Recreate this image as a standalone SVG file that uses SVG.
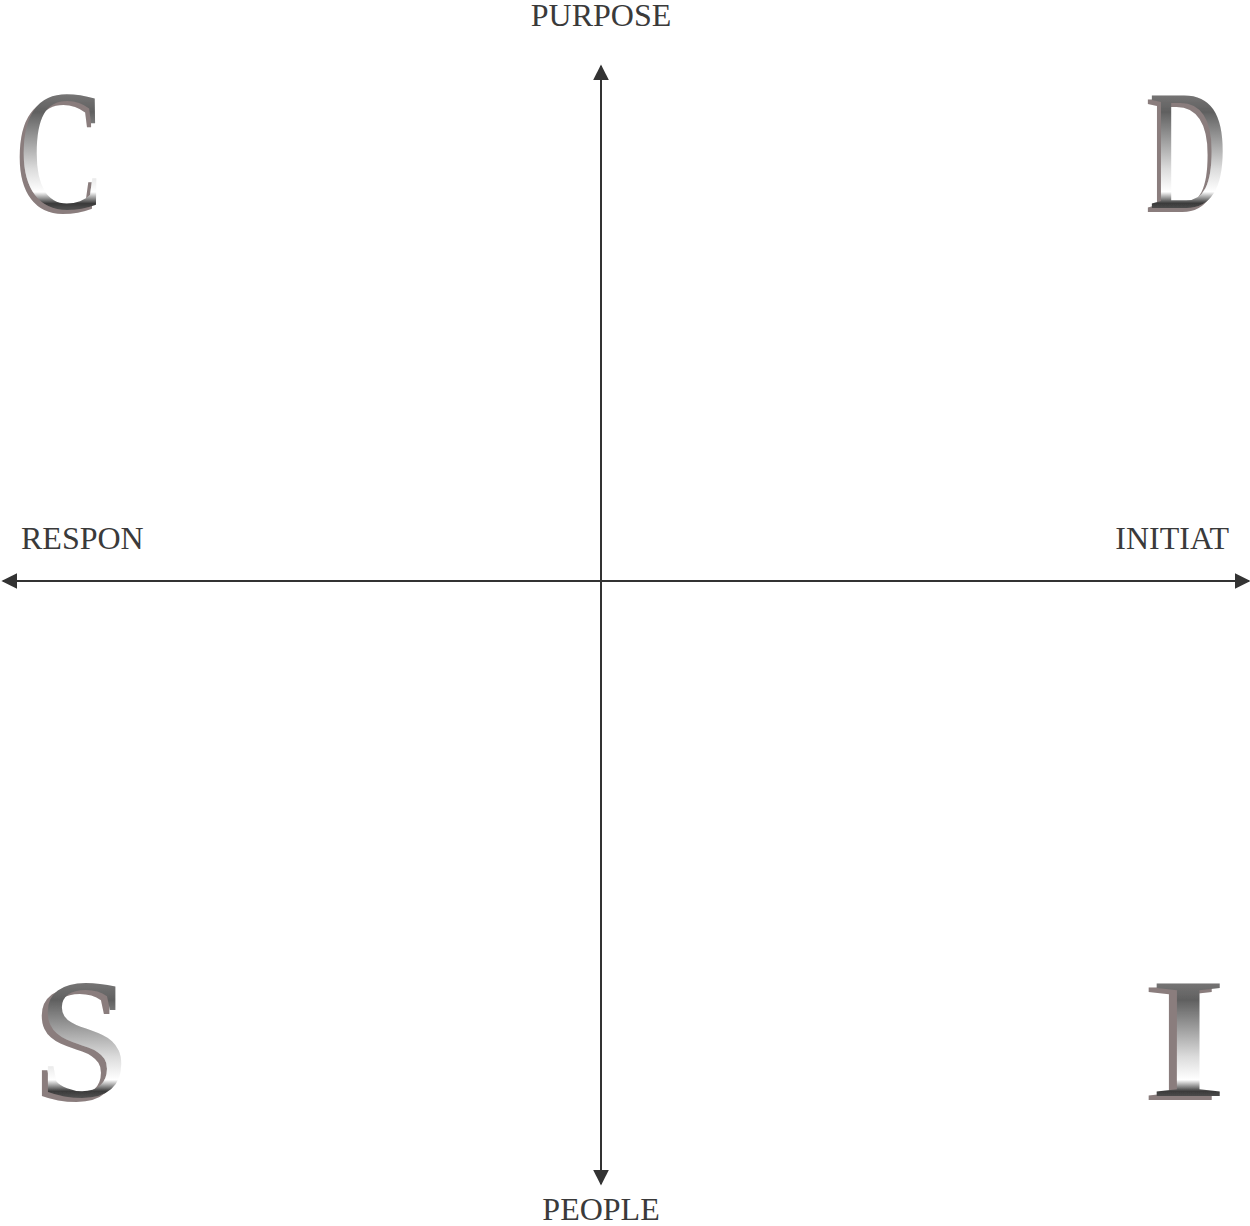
<svg xmlns="http://www.w3.org/2000/svg" width="1250" height="1226" viewBox="0 0 1250 1226">
<style>
.lbl{font-family:"Liberation Serif","Times New Roman",serif;font-size:32px;fill:#3a3a3a}
.big{font-family:"Liberation Serif","Times New Roman",serif;font-size:172px;fill:url(#metal);filter:url(#bevel);text-anchor:middle}
.ax{stroke:#333;stroke-width:2;fill:none}
</style>
<defs>
<linearGradient id="metal" x1="0" y1="0" x2="0" y2="1">
<stop offset="0" stop-color="#a8a4a4"/>
<stop offset="0.3" stop-color="#606060"/>
<stop offset="0.6" stop-color="#dcdcdc"/>
<stop offset="0.72" stop-color="#ffffff"/>
<stop offset="0.78" stop-color="#3a3a3a"/>
<stop offset="0.9" stop-color="#8a8a8a"/>
<stop offset="1" stop-color="#c8c8c8"/>
</linearGradient>
<filter id="bevel" x="-20%" y="-20%" width="140%" height="140%">
<feOffset in="SourceAlpha" dx="-6" dy="4" result="off"/>
<feFlood flood-color="#8a7d7d"/>
<feComposite in2="off" operator="in" result="shadow"/>
<feMerge><feMergeNode in="shadow"/><feMergeNode in="SourceGraphic"/></feMerge>
</filter>
<marker id="arrB" viewBox="0 0 10 10" refX="9" refY="5" markerWidth="16" markerHeight="16" markerUnits="userSpaceOnUse" orient="auto">
<path d="M0,0 L10,5 L0,10 Z" fill="#333"/>
</marker>
</defs>
<g id="connectors">
<line class="ax" x1="601" y1="581" x2="601" y2="66" marker-end="url(#arrB)"/>
<line class="ax" x1="601" y1="581" x2="601" y2="1184" marker-end="url(#arrB)"/>
<line class="ax" x1="601" y1="581" x2="3" y2="581" marker-end="url(#arrB)"/>
<line class="ax" x1="601" y1="581" x2="1249" y2="581" marker-end="url(#arrB)"/>
</g>
<g id="label-purpose"><text class="lbl" x="601" y="26" text-anchor="middle">PURPOSE</text></g>
<g id="label-people"><text class="lbl" x="601" y="1220" text-anchor="middle">PEOPLE</text></g>
<g id="label-respon"><text class="lbl" x="21" y="549">RESPON</text></g>
<g id="label-initiat"><text class="lbl" x="1229" y="549" text-anchor="end">INITIAT</text></g>
<g id="letter-c"><text class="big" transform="translate(61,208) scale(0.74,1)">C</text></g>
<g id="letter-d"><text class="big" transform="translate(1188,208) scale(0.63,1)">D</text></g>
<g id="letter-s"><text class="big" transform="translate(84,1096) scale(1.0,1)">S</text></g>
<g id="letter-i"><text class="big" transform="translate(1188,1096) scale(1.4,1)">I</text></g>
</svg>
